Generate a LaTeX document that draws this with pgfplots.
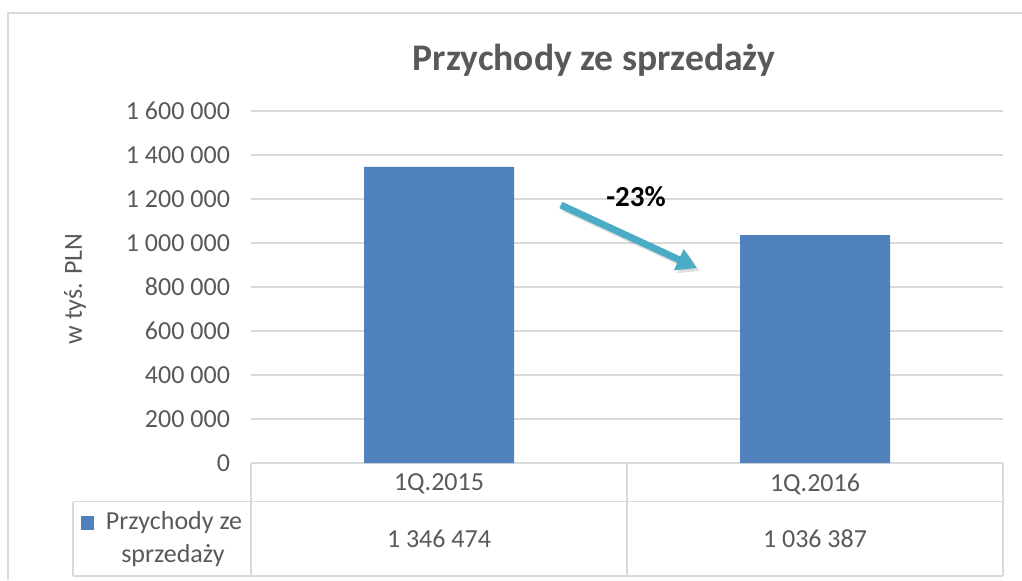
\documentclass[border=0pt]{standalone}
\usepackage{fontspec}
\setmainfont{Carlito}
\usepackage{pgfplots}
\pgfplotsset{compat=1.18}
\usetikzlibrary{arrows.meta}
\definecolor{barblue}{HTML}{4F81BD}
\definecolor{gridgray}{HTML}{D9D9D9}
\definecolor{txtgray}{HTML}{595959}
\definecolor{arrowteal}{HTML}{4BACC6}

\begin{document}
\begin{tikzpicture}
% page: 1022x580 px at 0.5pt per px
\useasboundingbox (0pt,0pt) rectangle (511pt,-290pt);
% outer frame (only top and left edges visible)
\draw[gridgray, line width=1pt] (4pt,-290pt) -- (4pt,-6.5pt) -- (511pt,-6.5pt);

\begin{axis}[
    at={(125.5pt,-231.5pt)}, anchor=south west,
    scale only axis,
    width=376pt, height=176pt,
    xmin=-0.5, xmax=1.5,
    ymin=0, ymax=1600000,
    ytick={0,200000,400000,600000,800000,1000000,1200000,1400000,1600000},
    yticklabels={0,200 000,400 000,600 000,800 000,1 000 000,1 200 000,1 400 000,1 600 000},
    xtick={0,1},
    xticklabels={1Q.2015,1Q.2016},
    ymajorgrids,
    grid style={gridgray, line width=0.8pt},
    axis x line*=bottom,
    axis y line*=left,
    x axis line style={gridgray, line width=0.8pt, -},
    y axis line style={draw=none},
    tick style={draw=none},
    scaled y ticks=false,
    ticklabel style={font=\fontsize{13}{15}\selectfont, text=txtgray},
    yticklabel style={anchor=east, xshift=-7pt},
    xticklabel style={anchor=center, yshift=-10.5pt},
    clip=false,
]
\addplot[ybar, bar width=75pt, fill=barblue, draw=none]
    coordinates {(0,1346474) (1,1036387)};

% -23% arrow with soft shadow
\draw[gray, opacity=0.25, line width=3.5pt, -{Triangle[length=10pt,width=11pt]}]
    ([xshift=1.5pt,yshift=-1.5pt]axis cs:0.324,1172727) -- ([xshift=1.5pt,yshift=-1.5pt]axis cs:0.686,886364);
\draw[arrowteal, line width=3.5pt, -{Triangle[length=10pt,width=11pt]}]
    (axis cs:0.324,1172727) -- (axis cs:0.686,886364);
\node[font=\bfseries\fontsize{14.5}{17}\selectfont, text=black]
    at (axis cs:0.524,1209091) {-23\%};
\end{axis}

% title
\node[font=\bfseries\fontsize{18.8}{22}\selectfont, text=txtgray] at (297pt,-30pt)
    {Przychody ze sprzedaży};
% y axis label
\node[rotate=90, font=\fontsize{13}{15}\selectfont, text=txtgray] at (37.5pt,-144.5pt)
    {w tyś. PLN};

% data table
\begin{scope}[gridgray, line width=0.8pt]
\draw (125.5pt,-231.5pt) -- (125.5pt,-288pt);
\draw (313.5pt,-231.5pt) -- (313.5pt,-288pt);
\draw (501.5pt,-231.5pt) -- (501.5pt,-288pt);
\draw (36.5pt,-250.75pt) -- (501.5pt,-250.75pt);
\draw (36.5pt,-288pt) -- (501.5pt,-288pt);
\draw (36.5pt,-250.75pt) -- (36.5pt,-288pt);
\end{scope}
\fill[barblue] (40.5pt,-258pt) rectangle (47pt,-265pt);
\begin{scope}[font=\fontsize{13}{15}\selectfont, text=txtgray]
\node at (87pt,-261.5pt) {Przychody ze};
\node at (86.5pt,-278pt) {sprzedaży};
\node at (219.5pt,-269.5pt) {1 346 474};
\node at (407.5pt,-269.5pt) {1 036 387};
\end{scope}
\end{tikzpicture}
\end{document}
